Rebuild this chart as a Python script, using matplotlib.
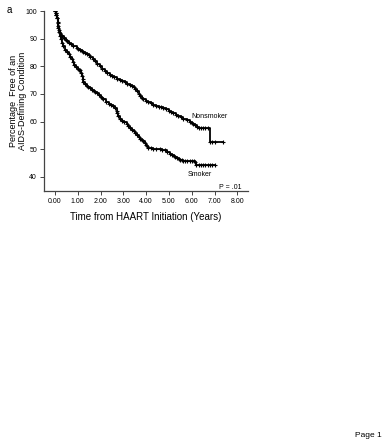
import numpy as np
import matplotlib
matplotlib.use('Agg')
import matplotlib.pyplot as plt

plt.rcParams['font.family'] = ['Liberation Sans', 'DejaVu Sans']

# Kaplan-Meier step knots (years, % free of AIDS-defining condition)
nonsmoker_t = [0.0, 0.03, 0.06, 0.09, 0.12, 0.15, 0.18, 0.21, 0.25, 0.32, 0.4, 0.48, 0.55,
               0.62, 0.7, 0.8, 0.95, 1.02, 1.1, 1.18, 1.25, 1.32, 1.4, 1.48, 1.55, 1.65,
               1.75, 1.85, 1.97, 2.08, 2.2, 2.3, 2.41, 2.5, 2.6, 2.72, 2.85, 2.95, 3.05,
               3.17, 3.29, 3.37, 3.45, 3.52, 3.6, 3.67, 3.73, 3.8, 3.87, 3.98, 4.1, 4.2,
               4.31, 4.43, 4.55, 4.65, 4.75, 4.88, 5.0, 5.1, 5.19, 5.3, 5.4, 5.52, 5.63,
               5.78, 5.92, 6.0, 6.07, 6.14, 6.21, 6.3, 6.8]
nonsmoker_s = [100, 99.3, 98.5, 97.5, 96, 94.5, 93, 92, 91.3, 90.9, 90.4, 89.6, 89,
               88.4, 88, 87.3, 86.5, 86.2, 86, 85.6, 85.3, 84.9, 84.5, 84, 83.5, 82.7,
               81.8, 80.9, 80, 79.1, 78.3, 77.6, 77, 76.5, 76, 75.5, 75.1, 74.6, 74.2,
               73.7, 73.3, 73, 72.6, 71.9, 71, 70.1, 69.3, 68.6, 68, 67.5, 67, 66.6,
               66.1, 65.7, 65.4, 65.1, 64.8, 64.4, 64, 63.5, 63.1, 62.5, 62, 61.5, 61,
               60.4, 59.8, 59.5, 59.3, 58.8, 58.2, 57.6, 52.6]
nonsmoker_end = 7.38

smoker_t = [0.0, 0.03, 0.06, 0.09, 0.12, 0.15, 0.18, 0.21, 0.25, 0.3, 0.37, 0.44, 0.52,
            0.6, 0.67, 0.75, 0.8, 0.85, 0.92, 1.0, 1.05, 1.1, 1.15, 1.2, 1.23, 1.25, 1.32,
            1.4, 1.47, 1.54, 1.62, 1.7, 1.77, 1.83, 1.92, 2.0, 2.06, 2.12, 2.23, 2.35,
            2.45, 2.56, 2.63, 2.7, 2.74, 2.78, 2.86, 2.95, 3.04, 3.14, 3.22, 3.29, 3.37,
            3.45, 3.52, 3.58, 3.67, 3.75, 3.81, 3.87, 3.94, 4.0, 4.05, 4.09, 4.2, 4.3,
            4.45, 4.6, 4.71, 4.82, 4.93, 5.04, 5.12, 5.2, 5.27, 5.34, 5.42, 5.5, 5.57,
            5.63, 6.14, 6.2]
smoker_s = [100, 99.3, 98.5, 97.5, 95.8, 94, 92.3, 90.8, 89.7, 88.5, 87.2, 86, 85.2,
            84.5, 83.5, 82.5, 81.5, 80.5, 79.8, 79.2, 78.8, 78.5, 77.5, 76.5, 75.3, 74.2, 73.6,
            73, 72.5, 72.1, 71.6, 71.2, 70.7, 70.3, 69.6, 69, 68.5, 68, 67.2, 66.5,
            66, 65.5, 64.8, 64, 63, 62, 61.1, 60.3, 59.8, 59.3, 58.5, 57.7, 57.1,
            56.5, 55.8, 55.2, 54.5, 53.8, 53.3, 52.8, 52.1, 51.5, 51, 50.5, 50.3, 50.2,
            50.1, 50.0, 49.8, 49.6, 48.9, 48.2, 47.8, 47.5, 47.1, 46.8, 46.5, 46.2, 46.0,
            45.8, 45.5, 44.3]
smoker_end = 7.02

# censored observations in the flat tails
nonsmoker_cens = [6.4, 6.5, 6.6, 6.7, 6.9, 7.0, 7.38]
smoker_cens = [5.7, 5.8, 5.9, 6.0, 6.1, 6.3, 6.4, 6.5, 6.6, 6.7, 6.8, 6.9, 7.02]

xticks = [0, 1, 2, 3, 4, 5, 6, 7, 8]
yticks = [40, 50, 60, 70, 80, 90, 100]


def step_value(t_knots, s_knots, t):
    idx = np.searchsorted(t_knots, t, side='right') - 1
    return np.array(s_knots)[idx]


fig = plt.figure(figsize=(3.84, 4.4), dpi=100)
ax = fig.add_axes([0.1146, 0.5666, 0.531, 0.4084])

for t, s, end, cens in [(nonsmoker_t, nonsmoker_s, nonsmoker_end, nonsmoker_cens),
                        (smoker_t, smoker_s, smoker_end, smoker_cens)]:
    tt = list(t) + [end]
    ss = list(s) + [s[-1]]
    ax.plot(tt, ss, drawstyle='steps-post', color='black', lw=1.3)
    ax.plot(t, s, ls='none', marker='+', ms=3, mew=0.8, color='black')
    ax.plot(cens, step_value(t, s, cens), ls='none', marker='+', ms=3.5, mew=0.8, color='black')

ax.set_xlim(-0.48, 8.46)
ax.set_ylim(35, 100)
ax.set_xticks(xticks)
ax.set_xticklabels([f'{v:.2f}' for v in xticks])
ax.set_yticks(yticks)
for side in ['top', 'right']:
    ax.spines[side].set_visible(False)
for side in ['left', 'bottom']:
    ax.spines[side].set_color('#444444')
    ax.spines[side].set_linewidth(0.9)
ax.tick_params(labelsize=5, length=3, width=0.7, color='#444444', pad=2)

ax.set_xlabel('Time from HAART Initiation (Years)', fontsize=7, labelpad=5)
ax.set_ylabel('Percentage  Free of an\nAIDS-Defining Condition', fontsize=6.5,
              linespacing=1.0)
ax.yaxis.set_label_coords(-0.085, 0.5)

ax.text(6.0, 62.0, 'Nonsmoker', fontsize=5, ha='left', va='center')
ax.text(5.8, 40.9, 'Smoker', fontsize=5, ha='left', va='center')
ax.text(8.2, 36.0, 'P = .01', fontsize=5, ha='right', va='center')

fig.text(7 / 384, 1 - 10 / 440, 'a', fontsize=7, ha='left', va='center')
fig.text(382 / 384, 1 - 435 / 440, 'Page 1', fontsize=6, ha='right', va='center')

fig.savefig('out.png', dpi=100)
